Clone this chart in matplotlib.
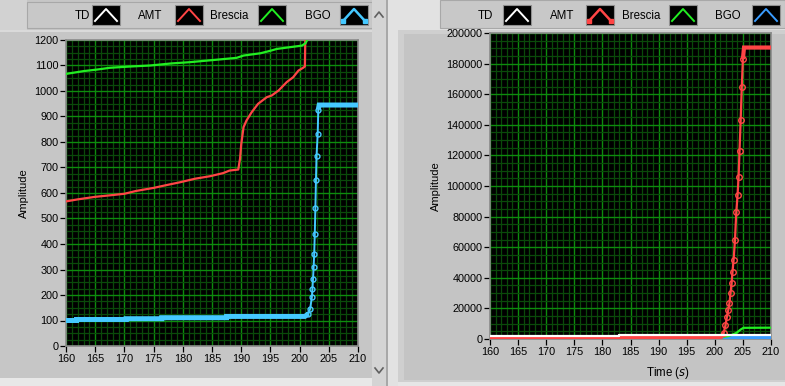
import matplotlib
matplotlib.use("Agg")
import matplotlib.pyplot as plt
from matplotlib.patches import Rectangle
from matplotlib.lines import Line2D
from matplotlib.ticker import MultipleLocator

plt.rcParams['font.family'] = ['Liberation Sans', 'DejaVu Sans']

# ---------------- data ----------------
series_names = ["TD", "AMT", "Brescia", "BGO"]

td_t = [160, 183, 183, 210]
td_v = [2000, 2000, 2900, 2900]

amt_t = [160, 162, 165, 168, 170, 172, 175, 177, 179.5, 182.1, 184.7, 186.9, 188, 189.5,
         189.7, 189.8, 190.0, 190.4, 190.9, 191.8, 192.9, 194.4, 195.2, 196.4, 197.8, 198.9,
         199.8, 200.6, 200.9, 201.2, 201.56, 201.9, 202.16, 202.4, 202.6, 202.8, 202.98, 203.15,
         203.34, 203.59, 203.82, 204.05, 204.23, 204.4, 204.6, 204.8, 205.0, 205.2, 210]
amt_v = [567, 575, 585, 592, 597, 608, 620, 630, 642, 656, 666, 678, 688, 692,
         721, 734, 790, 858, 884, 917, 950, 976, 982, 1002, 1035, 1054,
         1080, 1091, 1096, 1500, 3700, 9000, 14500, 19000, 23300, 30000, 36300, 44000,
         51500, 64500, 82900, 94000, 105700, 123000, 143000, 165000, 183000, 190500, 190500]

bre_t = [160, 163, 165.3, 167.5, 171, 174.4, 178, 181.2, 186.4, 189.2, 190.4, 193.3, 195.2,
         196.1, 198.4, 200.4, 201, 201.3, 202.3, 203.0, 203.9, 204.6, 205.1, 210]
bre_v = [1067, 1078, 1084, 1091, 1096, 1100, 1108, 1113, 1124, 1130, 1139, 1148, 1159,
         1165, 1172, 1178, 1187, 1200, 1800, 2600, 4100, 6200, 7300, 7400]

bgo_t = [160, 161.8, 161.8, 170.3, 170.3, 176.4, 176.4, 187.5, 187.5, 200.9, 201.5, 201.8,
         202.1, 202.2, 202.3, 202.4, 202.5, 202.6, 202.7, 202.8, 202.9, 203.1, 203.2, 203.35, 210]
bgo_v = [100, 100, 104, 104, 107, 107, 111, 111, 116, 116, 126, 146,
         191, 224, 263, 309, 362, 440, 540, 650, 747, 832, 927, 945, 945]

left_ylim = (0, 1200)
right_ylim = (0, 200000)
xlim = (160, 210)

# ---------------- figure ----------------
W, H = 785, 386
fig = plt.figure(figsize=(W / 100, H / 100), dpi=100)
fig.patch.set_facecolor('#e4e4e4')


def rect(x, y, w, h, fc, ec='none', lw=0, z=0):
    fig.add_artist(Rectangle((x / W, 1 - (y + h) / H), w / W, h / H,
                             transform=fig.transFigure, facecolor=fc, edgecolor=ec,
                             linewidth=lw, zorder=z))


def fline(xs, ys, color, lw=1, z=1, **kw):
    fig.add_artist(Line2D([x / W for x in xs], [1 - y / H for y in ys],
                          transform=fig.transFigure, color=color, linewidth=lw,
                          zorder=z, **kw))


# left panel chrome
rect(0, 0, 372, 378, '#c6c6c6')
rect(0, 0, 27, 30, '#d2d2d2')
rect(27, 2, 345, 26, '#c8c8c8', ec='#a8a8a8', lw=0.8)
rect(0, 30, 372, 2, '#dadada')
rect(372, 0, 14, 386, '#d4d4d4')
rect(386, 0, 2, 386, '#a8a8a8')
rect(0, 378, 372, 8, '#e8e8e8')
fline([375, 379, 383], [17, 12, 17], '#606060', lw=1.2, z=2)
fline([375, 379, 383], [368, 373, 368], '#606060', lw=1.2, z=2)

# right panel chrome
rect(388, 0, 397, 386, '#e2e2e2')
rect(440, 0, 345, 28, '#c8c8c8', ec='#a8a8a8', lw=0.8)
rect(398, 30, 387, 352, '#cfcfcf')
rect(404, 34, 381, 346, '#c4c4c4')
rect(398, 382, 387, 4, '#e6e6e6')

# legends
left_leg = [(75, 92, 'white', False), (138, 175, '#ff4545', False),
            (210, 258, '#22ee22', False), (305, 340, '#45c8ff', True)]
right_leg = [(478, 503, 'white', False), (550, 586, '#ff4545', True),
             (622, 669, '#22ee22', False), (715, 752, '#3a9cff', False)]
for legset in (left_leg, right_leg):
    for (tx, bx, col, mk), name in zip(legset, series_names):
        fig.text(tx / W, 1 - 16 / H, name, fontsize=8.3, va='center', ha='left', color='black')
        rect(bx, 5, 28, 20, 'black', ec='#909090', lw=0.8, z=2)
        fline([bx + 3, bx + 14, bx + 25], [21, 9, 21], col, lw=1.4 if not mk else 1.8, z=3,
              marker='s' if mk else None, markersize=2.5, markevery=[0, 2] if mk else None)

# ---------------- axes ----------------
def make_axes(x0, x1, y0, y1):
    return fig.add_axes([x0 / W, 1 - y1 / H, (x1 - x0) / W, (y1 - y0) / H])


axL = make_axes(66, 358, 40, 346)
axR = make_axes(490, 771, 33, 339)

for ax, ylim, ymaj, ymin in ((axL, left_ylim, 100, 25), (axR, right_ylim, 20000, 5000)):
    ax.set_facecolor('black')
    ax.set_xlim(*xlim)
    ax.set_ylim(*ylim)
    ax.xaxis.set_major_locator(MultipleLocator(5))
    ax.xaxis.set_minor_locator(MultipleLocator(1))
    ax.yaxis.set_major_locator(MultipleLocator(ymaj))
    ax.yaxis.set_minor_locator(MultipleLocator(ymin))
    ax.grid(which='minor', color='#0a4a0a', linewidth=0.9)
    ax.grid(which='major', color='#0d8c0d', linewidth=1.0)
    ax.set_axisbelow(True)
    ax.tick_params(which='major', direction='out', length=4, width=0.9, color='black',
                   labelsize=7.8, pad=1.5)
    ax.tick_params(which='minor', length=0)
    for s in ax.spines.values():
        s.set_color('#8a8a8a')
        s.set_linewidth(1.2)
    ax.set_ylabel('Amplitude', fontsize=8, labelpad=4)


def split_plot(ax, t, v, lo, hi, color, thick, thin, ms, z):
    """Thick flat parts, thin rising part with open circle markers."""
    a = [i for i, x in enumerate(t) if x <= lo]
    b = [i for i, x in enumerate(t) if lo <= x <= hi]
    c = [i for i, x in enumerate(t) if x >= hi]
    for idx, lw in ((a, thick), (c, thick)):
        ax.plot([t[i] for i in idx], [v[i] for i in idx], color=color, lw=lw, zorder=z,
                solid_joinstyle='miter', solid_capstyle='butt')
    ax.plot([t[i] for i in b], [v[i] for i in b], color=color, lw=thin, zorder=z,
            marker='o', mfc='none', mec=color, ms=ms, mew=1.0)


# left plot
axL.plot(amt_t, amt_v, color='#ff4545', lw=1.6, zorder=3)
axL.plot(bre_t, bre_v, color='#22ee22', lw=1.6, zorder=3)
split_plot(axL, bgo_t, bgo_v, 201.5, 203.2, '#45c8ff', 3.6, 1.4, 3.5, 4)

# right plot (blue and green beneath red, white on top)
axR.plot(bgo_t, bgo_v, color='#3a9cff', lw=2.6, zorder=3)
axR.plot(bre_t, bre_v, color='#22ee22', lw=1.6, zorder=4)
split_plot(axR, amt_t, amt_v, 201.56, 205.0, '#ff4545', 3.0, 1.6, 4, 5)
axR.plot(td_t, td_v, color='white', lw=1.6, zorder=7)
axR.set_xlabel('Time ($s$)', fontsize=8.3, labelpad=3)
axR.xaxis.set_label_coords((668 - 490) / (771 - 490), -0.085)

fig.savefig('out.png', dpi=100, facecolor=fig.get_facecolor())
